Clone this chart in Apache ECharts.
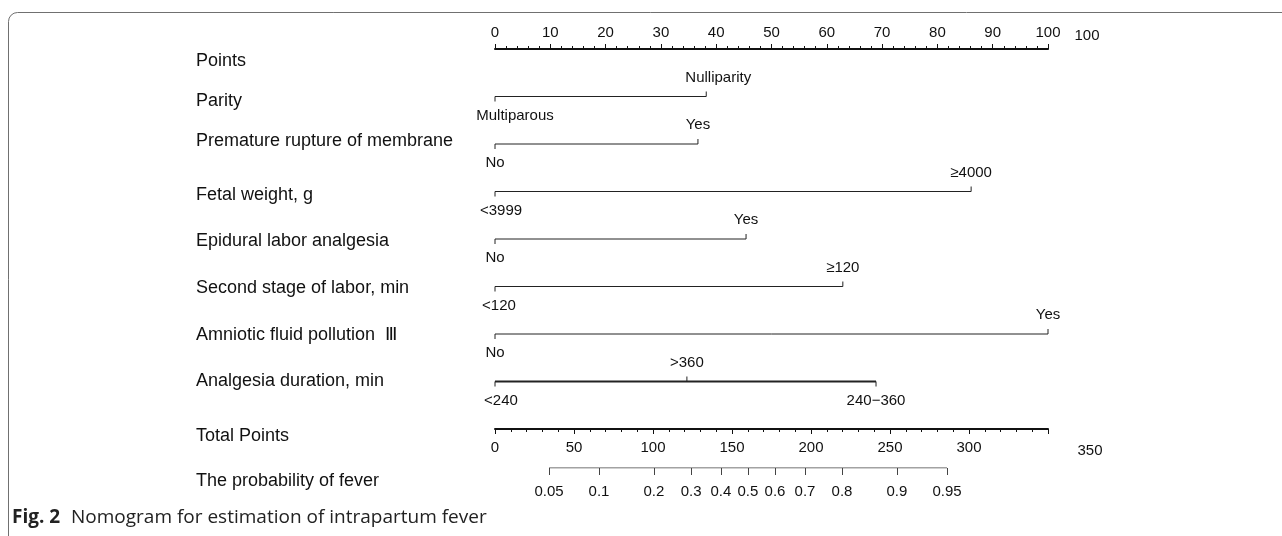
<!DOCTYPE html>
<html><head><meta charset="utf-8">
<script src="https://cdn.jsdelivr.net/npm/echarts@6/dist/echarts.min.js"></script>
<style>html,body{margin:0;padding:0;background:#fff}#c{width:1282px;height:536px}</style>
</head><body><div id="c"></div>
<script>
// ---------------- DATA ----------------
const rowNames = ['Points', 'Parity', 'Premature rupture of membrane', 'Fetal weight, g',
  'Epidural labor analgesia', 'Second stage of labor, min', 'Amniotic fluid pollution  \u2162',
  'Analgesia duration, min', 'Total Points', 'The probability of fever'];

const parityLevels = ['Multiparous', 'Nulliparity'];
const parityPoints = [0, 38.2];
const promLevels = ['No', 'Yes'];
const promPoints = [0, 36.7];
const fetalLevels = ['<3999', '\u22654000'];
const fetalPoints = [0, 86.1];
const epiduralLevels = ['No', 'Yes'];
const epiduralPoints = [0, 45.4];
const secondLevels = ['<120', '\u2265120'];
const secondPoints = [0, 62.9];
const amnioticLevels = ['No', 'Yes'];
const amnioticPoints = [0, 100];
const durationLevels = ['<240', '>360', '240\u2212360'];
const durationPoints = [0, 34.7, 68.9];

const pointsMin = 0, pointsMax = 100, pointsStep = 10;
const totalMin = 0, totalMax = 350, totalStep = 50;

const probLabels = ['0.05', '0.1', '0.2', '0.3', '0.4', '0.5', '0.6', '0.7', '0.8', '0.9', '0.95'];
const probTotalPoints = [34.2, 65.8, 100.6, 124.1, 143.0, 160.1, 177.2, 196.2, 219.6, 254.4, 286.1];

// ---------------- LAYOUT (positions / styles) ----------------
const rowLabelY = [61, 101, 141, 195, 241, 288, 335, 381, 436, 481];
const sides = [
  ['below', 'above'], ['below', 'above'], ['below', 'above'], ['below', 'above'],
  ['below', 'above'], ['below', 'above'], ['below', 'above', 'below']
];
const labelDx = [[20, 12], [0, 0], [6, 0], [0, 0], [4, 0], [0, 0], [6, 0, 0]];
const FONT = "'Liberation Sans', Arial, sans-serif";
const INK = '#111';
const TICKFS = 15;

const variables = [
  [parityLevels, parityPoints], [promLevels, promPoints], [fetalLevels, fetalPoints],
  [epiduralLevels, epiduralPoints], [secondLevels, secondPoints],
  [amnioticLevels, amnioticPoints], [durationLevels, durationPoints]
];

const segData = [];
const levelData = [];
variables.forEach(([lv, pts], i) => {
  const row = i + 1;
  segData.push([Math.max.apply(null, pts), row, i === 6 ? 2 : 1]);
  lv.forEach((name, j) => {
    levelData.push({ value: [pts[j], row], name: name, side: sides[i][j], dx: labelDx[i][j] });
  });
});

const chart = echarts.init(document.getElementById('c'), null, { renderer: 'canvas' });

const graphics = [
  { type: 'rect', shape: { x: 8.5, y: 12.5, width: 1400, height: 700, r: 9 },
    style: { fill: 'none', stroke: '#707070', lineWidth: 1 }, silent: true },
  { type: 'text', x: 12, y: 518, style: { text: 'Fig. 2', font: "bold 19px 'Open Sans', sans-serif", fill: '#222', verticalAlign: 'middle' } },
  { type: 'text', x: 71, y: 518, style: { text: 'Nomogram for estimation of intrapartum fever', font: "19px 'Open Sans', sans-serif", fill: '#222', verticalAlign: 'middle' } },
  { type: 'text', x: 1087, y: 36, style: { text: String(pointsMax), font: TICKFS + 'px ' + FONT, fill: INK, align: 'center', verticalAlign: 'middle' } },
  { type: 'text', x: 1090, y: 451, style: { text: String(totalMax), font: TICKFS + 'px ' + FONT, fill: INK, align: 'center', verticalAlign: 'middle' } }
];
rowNames.forEach((n, i) => {
  graphics.push({ type: 'text', x: 196, y: rowLabelY[i],
    style: { text: n, font: '18px ' + FONT, fill: INK, verticalAlign: 'middle' } });
});

const axisCommon = {
  axisLine: { show: true, lineStyle: { color: INK, width: 2 } },
  splitLine: { show: false },
  axisLabel: { color: INK, fontSize: TICKFS, fontFamily: FONT },
};

chart.setOption({
  animation: false,
  backgroundColor: '#fff',
  graphic: graphics,
  grid: [
    { left: 495, right: 234, top: 49, height: 380, outerBoundsMode: 'none', containLabel: false },
    { left: 495, right: 234, top: 458, height: 10, outerBoundsMode: 'none', containLabel: false }
  ],
  xAxis: [
    Object.assign({}, axisCommon, {
      type: 'value', gridIndex: 0, position: 'top', min: pointsMin, max: pointsMax, interval: pointsStep,
      axisTick: { show: true, length: 5, lineStyle: { color: INK } },
      minorTick: { show: true, splitNumber: 5, length: 3, lineStyle: { color: INK } },
      axisLabel: Object.assign({}, axisCommon.axisLabel, { margin: 9 })
    }),
    Object.assign({}, axisCommon, {
      type: 'value', gridIndex: 0, position: 'bottom', min: totalMin, max: totalMax, interval: totalStep,
      axisTick: { show: true, length: 5, lineStyle: { color: INK } },
      minorTick: { show: true, splitNumber: 5, length: 3, lineStyle: { color: INK } },
      axisLabel: Object.assign({}, axisCommon.axisLabel, { margin: 11,
        formatter: v => (v === totalMax ? '' : String(v)) })
    }),
    {
      type: 'value', gridIndex: 1, position: 'bottom', min: totalMin, max: totalMax,
      axisLine: { show: false }, splitLine: { show: false },
      axisTick: { show: true, length: 7, customValues: probTotalPoints, lineStyle: { color: '#444' } },
      axisLabel: { show: true, customValues: probTotalPoints, margin: 16, color: INK, fontSize: TICKFS, fontFamily: FONT,
        formatter: v => { const k = probTotalPoints.indexOf(v); return k >= 0 ? probLabels[k] : ''; } }
    }
  ],
  yAxis: [
    { type: 'value', gridIndex: 0, inverse: true, min: 0, max: 8, show: false },
    { type: 'value', gridIndex: 1, min: 0, max: 1, show: false }
  ],
  series: [
    {
      type: 'custom', xAxisIndex: 0, yAxisIndex: 0, data: segData, silent: true,
      renderItem: (params, api) => {
        const a = api.coord([0, api.value(1)]);
        const b = api.coord([api.value(0), api.value(1)]);
        return { type: 'line', shape: { x1: a[0], y1: a[1], x2: b[0], y2: b[1] },
          style: { stroke: '#222', lineWidth: api.value(2) } };
      }
    },
    {
      type: 'custom', xAxisIndex: 0, yAxisIndex: 0, data: levelData, silent: true,
      renderItem: (params, api) => {
        const item = levelData[params.dataIndex];
        const p = api.coord([api.value(0), api.value(1)]);
        const dir = item.side === 'above' ? -1 : 1;
        return { type: 'group', children: [
          { type: 'line', shape: { x1: p[0], y1: p[1], x2: p[0], y2: p[1] + dir * 5 },
            style: { stroke: '#222', lineWidth: 1 } },
          { type: 'text', x: p[0] + item.dx, y: p[1] + dir * 19,
            style: { text: item.name, font: TICKFS + 'px ' + FONT, fill: INK, align: 'center', verticalAlign: 'middle' } }
        ] };
      }
    },
    {
      type: 'line', xAxisIndex: 2, yAxisIndex: 1, symbol: 'none', silent: true,
      data: [[probTotalPoints[0], 0], [probTotalPoints[probTotalPoints.length - 1], 0]],
      lineStyle: { color: '#444', width: 1 }
    }
  ]
});
</script>
</body></html>
